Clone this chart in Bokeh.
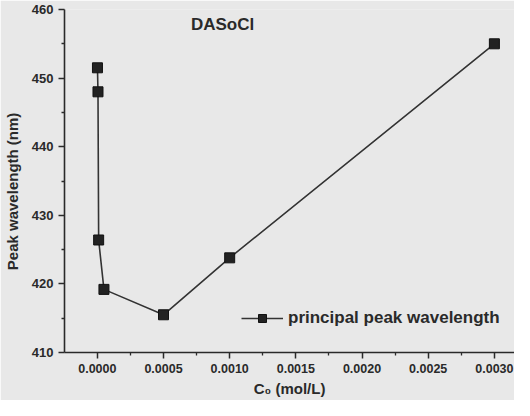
from bokeh.plotting import figure
from bokeh.models import (FixedTicker, PrintfTickFormatter, Legend, LegendItem,
                          Label, Range1d)
from bokeh.embed import file_html
from bokeh.resources import INLINE

# data
conc = [0.000001, 0.000005, 0.00001, 0.00005, 0.0005, 0.0010, 0.0030]
peak = [451.5, 448.0, 426.4, 419.2, 415.5, 423.8, 455.0]
x_ticks = [0.0, 0.0005, 0.0010, 0.0015, 0.0020, 0.0025, 0.0030]
x_minor = [0.00025, 0.00075, 0.00125, 0.00175, 0.00225, 0.00275]
y_ticks = [410, 420, 430, 440, 450, 460]
y_minor = [415, 425, 435, 445, 455]
title_text = "DASoCl"
legend_text = "principal peak wavelength"
y_label_text = "Peak wavelength (nm)"
x_label_text = "C\u2080 (mol/L)"

BG = "#e8e8e8"
FONT = "Liberation Sans"
INK = "#2a2a2a"

p = figure(width=514, height=400, output_backend="svg", toolbar_location=None,
           x_range=Range1d(-0.000248, 0.003152), y_range=Range1d(410, 460),
           min_border_left=62, min_border_right=0, min_border_top=9,
           min_border_bottom=48)
p.background_fill_color = BG
p.border_fill_color = BG
p.outline_line_color = None
p.grid.visible = False

line_r = p.line(conc, peak, line_color="#333333", line_width=1.6)
sq_r = p.scatter(conc, peak, marker="square", size=10, fill_color="#222222",
                 line_color="#111111", line_width=1)

for ax in (p.xaxis[0], p.yaxis[0]):
    ax.axis_line_color = INK
    ax.axis_line_width = 1.6
    ax.major_tick_line_color = INK
    ax.minor_tick_line_color = INK
    ax.major_tick_line_width = 1.5
    ax.minor_tick_line_width = 1.3
    ax.major_tick_out = 6
    ax.major_tick_in = 0
    ax.minor_tick_out = 3
    ax.minor_tick_in = 0
    ax.major_label_text_font = FONT
    ax.major_label_text_font_style = "bold"
    ax.major_label_text_font_size = "13px"
    ax.major_label_text_color = INK
    ax.major_label_standoff = 5
    ax.axis_label_text_font = FONT
    ax.axis_label_text_font_style = "bold"
    ax.axis_label_text_color = INK

p.xaxis.major_label_text_font_size = "12.5px"
p.xaxis.ticker = FixedTicker(ticks=x_ticks, minor_ticks=x_minor)
p.yaxis.ticker = FixedTicker(ticks=y_ticks, minor_ticks=y_minor)
p.xaxis.formatter = PrintfTickFormatter(format="%.4f")
p.yaxis.formatter = PrintfTickFormatter(format="%d")

p.xaxis.axis_label = x_label_text
p.xaxis.axis_label_text_font_size = "15px"
p.xaxis.axis_label_standoff = 4
# trailing no-break spaces nudge the rotated label slightly downward
p.yaxis.axis_label = y_label_text + "\u00a0" * 5
p.yaxis.axis_label_text_font_size = "15px"
p.yaxis.axis_label_standoff = 8

p.add_layout(Label(x=0.000707, y=457.8, text=title_text, text_font=FONT,
                   text_font_style="bold", text_font_size="17px",
                   text_color=INK, text_align="left", text_baseline="middle"))

legend = Legend(items=[LegendItem(label=legend_text, renderers=[line_r, sq_r])],
                location=(177, 24), padding=0, margin=0, spacing=0,
                border_line_color=None, background_fill_alpha=0,
                glyph_width=42, glyph_height=20, label_standoff=5,
                label_text_font=FONT, label_text_font_style="bold",
                label_text_font_size="17px", label_text_color=INK)
p.add_layout(legend)

open("out.html", "w").write(file_html(p, INLINE))
